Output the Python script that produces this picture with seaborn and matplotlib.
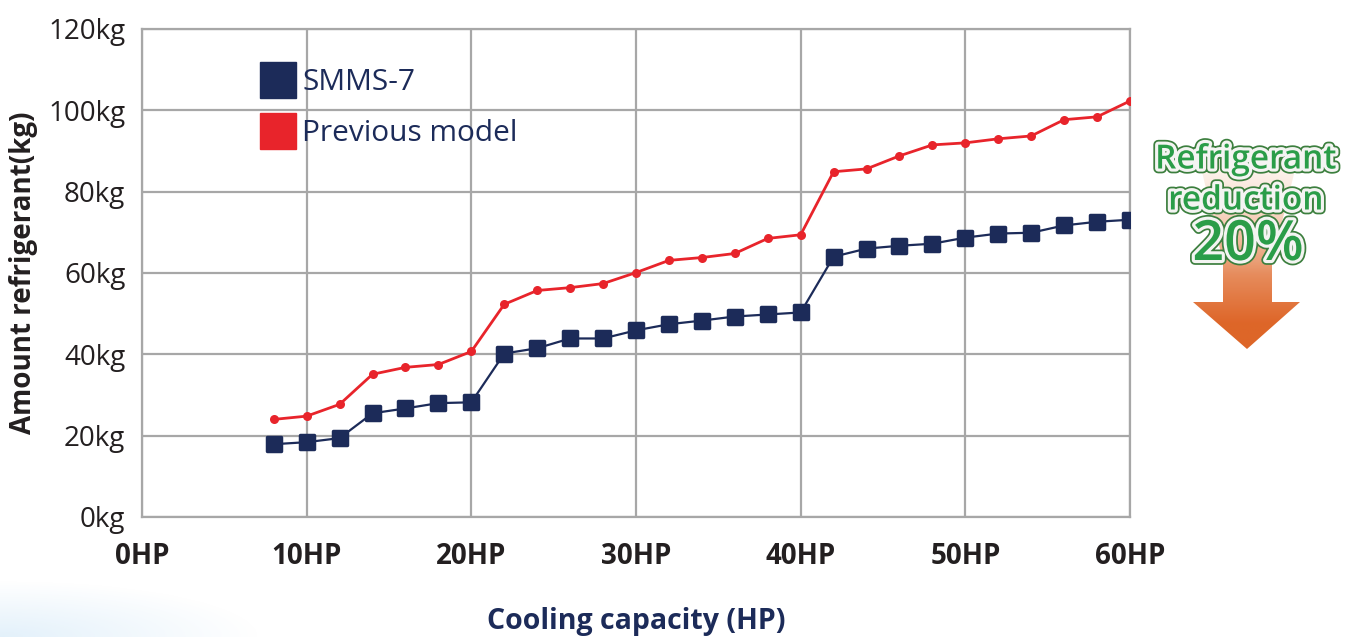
import numpy as np
import pandas as pd
import matplotlib
matplotlib.use("Agg")
import matplotlib.pyplot as plt
import matplotlib.patheffects as pe
from matplotlib.lines import Line2D
from matplotlib.markers import MarkerStyle
from matplotlib.patches import Polygon
import seaborn as sns

# data
capacity_hp = [8, 10, 12, 14, 16, 18, 20, 22, 24, 26, 28, 30, 32, 34,
               36, 38, 40, 42, 44, 46, 48, 50, 52, 54, 56, 58, 60]
smms7_kg = [17.9, 18.4, 19.4, 25.5, 26.7, 28.0, 28.2, 40.2, 41.5, 43.9,
            43.9, 45.9, 47.4, 48.3, 49.3, 49.8, 50.3, 64.0, 66.0, 66.7,
            67.2, 68.7, 69.7, 69.9, 71.7, 72.6, 73.1]
previous_kg = [24.0, 24.8, 27.7, 35.1, 36.8, 37.5, 40.7, 52.3, 55.7, 56.4,
               57.4, 60.1, 63.1, 63.8, 64.8, 68.5, 69.4, 84.9, 85.6, 88.8,
               91.5, 92.0, 93.0, 93.7, 97.7, 98.4, 102.3]
series_names = ["SMMS-7", "Previous model"]
x_ticks = [0, 10, 20, 30, 40, 50, 60]
y_ticks = [0, 20, 40, 60, 80, 100, 120]

navy = "#1c2b59"
red = "#e8242b"
grid_col = "#a7a7a7"
text_col = "#231f20"

sns.set_theme(style="white")
plt.rcParams["font.family"] = ["Open Sans", "DejaVu Sans"]

df = pd.DataFrame({"hp": capacity_hp, "SMMS-7": smms7_kg, "Previous model": previous_kg})

fig = plt.figure(figsize=(13.62, 6.37), dpi=100)

# faint blue wash in the bottom-left corner
bg = fig.add_axes([0, 0, 260 / 1362, 90 / 637])
bg.axis("off")
gx, gy = np.meshgrid(np.linspace(0, 1, 200), np.linspace(0, 1, 80))
wash = np.zeros((80, 200, 4))
wash[..., :3] = [0.80, 0.90, 0.97]
wash[..., 3] = np.clip(1 - np.sqrt(gx ** 2 + ((1 - gy) * 1.6) ** 2), 0, 1) * 0.55
bg.imshow(wash, extent=(0, 1, 0, 1), aspect="auto")

ax = fig.add_axes([142 / 1362, 1 - 517 / 637, 988 / 1362, 488 / 637])

sq = MarkerStyle("s", joinstyle="round")
sns.lineplot(data=df, x="hp", y="Previous model", ax=ax, color=red, lw=2,
             marker="o", markersize=6.5, markeredgewidth=0, zorder=3)
sns.lineplot(data=df, x="hp", y="SMMS-7", ax=ax, color=navy, lw=1.6,
             marker=sq, markersize=9.5, markeredgewidth=2.5,
             markeredgecolor=navy, zorder=4)

ax.set_xlim(0, 60)
ax.set_ylim(0, 120)
ax.set_xticks(x_ticks)
ax.set_yticks(y_ticks)
ax.set_xticklabels([f"{v}HP" for v in x_ticks], fontsize=20, fontweight="bold", color=text_col)
ax.set_yticklabels([f"{v}kg" for v in y_ticks], fontsize=20, color=text_col)
ax.tick_params(axis="x", length=0, pad=18)
ax.tick_params(axis="y", length=0, pad=12)
ax.grid(True, color=grid_col, lw=1.6)
for s in ax.spines.values():
    s.set_color(grid_col)
    s.set_linewidth(1.6)
ax.set_axisbelow(True)

ax.set_xlabel("Cooling capacity (HP)", fontsize=20.5, fontweight="bold", color=navy, labelpad=26)
ax.set_ylabel("Amount refrigerant(kg)", fontsize=20, fontweight="bold", color=text_col, labelpad=7)

handles = [Line2D([], [], ls="none", marker="s", markersize=26, color=c) for c in (navy, red)]
leg = ax.legend(handles, series_names, loc="upper left", bbox_to_anchor=(0.094, 0.975),
                frameon=False, fontsize=21.5, handletextpad=0.25, labelspacing=0.75,
                handlelength=1.1)
for t in leg.get_texts():
    t.set_color(navy)

# annotation panel in pixel coordinates
ann = fig.add_axes([1140 / 1362, 1 - 360 / 637, 222 / 1362, 240 / 637])
ann.set_xlim(1140, 1362)
ann.set_ylim(360, 120)
ann.axis("off")

arrow_pts = [(1197, 150), (1300, 150), (1272, 262), (1272, 302), (1300, 302),
             (1247, 349), (1193, 302), (1223, 302), (1223, 262)]
poly = Polygon(arrow_pts, closed=True, facecolor="none", edgecolor="none")
ann.add_patch(poly)
grad = np.linspace(0, 1, 256).reshape(-1, 1)
rgba = np.zeros((256, 1, 4))
c_top = np.array([0.99, 0.93, 0.88])
c_bot = np.array([0.87, 0.40, 0.16])
mix = np.clip(grad * 1.15, 0, 1)
rgba[:, 0, :3] = c_top * (1 - mix) + c_bot * mix
rgba[:, 0, 3] = np.clip(0.25 + grad[:, 0] * 1.2, 0, 1)
im = ann.imshow(rgba, extent=(1190, 1305, 349, 150), aspect="auto", zorder=1)
im.set_clip_path(poly)

fx = [pe.Stroke(linewidth=7, foreground="#3c7f3e"), pe.Stroke(linewidth=4.5, foreground="#f4f4f2"), pe.Normal()]
green = "#2a9d48"
ann.text(1246, 160, "Refrigerant", ha="center", va="center", fontsize=24,
         fontweight="semibold", color=green, path_effects=fx, zorder=3)
ann.text(1246, 201, "reduction", ha="center", va="center", fontsize=24,
         fontweight="semibold", color=green, path_effects=fx, zorder=3)
ann.text(1248, 246, "20%", ha="center", va="center", fontsize=40,
         fontweight="semibold", color=green, path_effects=fx, zorder=3)

fig.savefig("out.png", dpi=100)
